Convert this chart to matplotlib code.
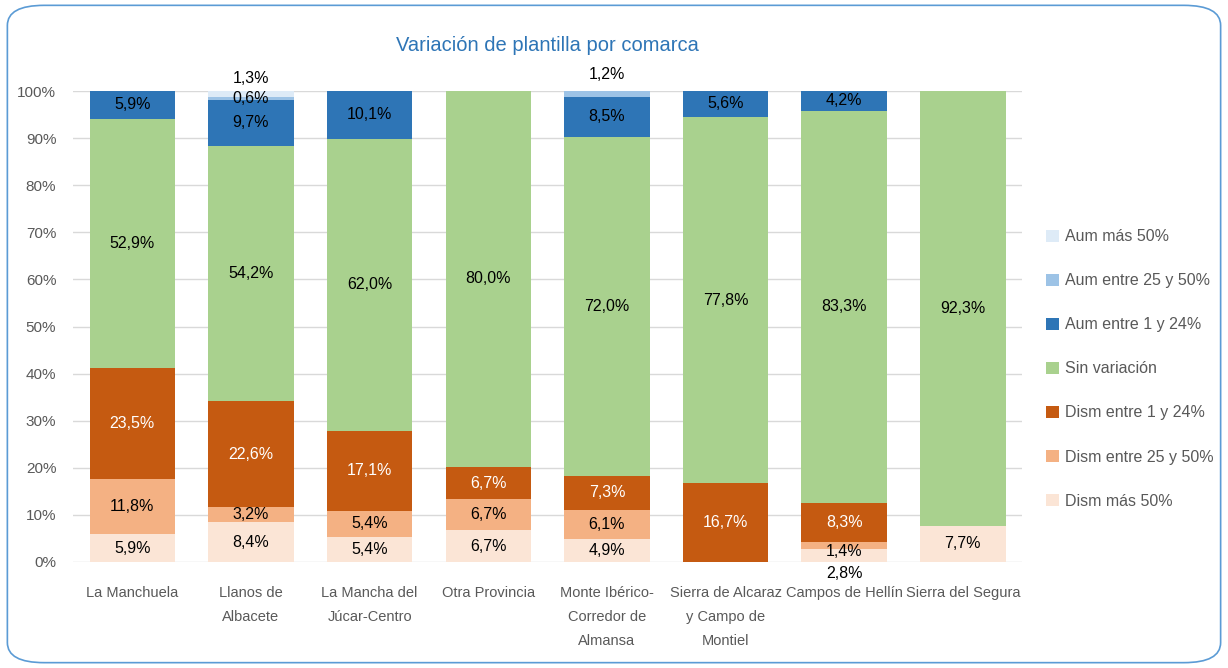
import matplotlib.pyplot as plt
import numpy as np
from matplotlib.patches import FancyBboxPatch

plt.rcParams['font.family'] = ['Liberation Sans', 'DejaVu Sans']

comarcas = ['La Manchuela', 'Llanos de\nAlbacete', 'La Mancha del\nJúcar-Centro', 'Otra Provincia',
            'Monte Ibérico-\nCorredor de\nAlmansa', 'Sierra de Alcaraz\ny Campo de\nMontiel',
            'Campos de Hellín', 'Sierra del Segura']

# series, from bottom to top of the stack
dism_mas50 = [5.9, 8.4, 5.4, 6.7, 4.9, 0.0, 2.8, 7.7]
dism_25_50 = [11.8, 3.2, 5.4, 6.7, 6.1, 0.0, 1.4, 0.0]
dism_1_24 = [23.5, 22.6, 17.1, 6.7, 7.3, 16.7, 8.3, 0.0]
sin_var = [52.9, 54.2, 62.0, 80.0, 72.0, 77.8, 83.3, 92.3]
aum_1_24 = [5.9, 9.7, 10.1, 0.0, 8.5, 5.6, 4.2, 0.0]
aum_25_50 = [0.0, 0.6, 0.0, 0.0, 1.2, 0.0, 0.0, 0.0]
aum_mas50 = [0.0, 1.3, 0.0, 0.0, 0.0, 0.0, 0.0, 0.0]

series = [dism_mas50, dism_25_50, dism_1_24, sin_var, aum_1_24, aum_25_50, aum_mas50]
names = ['Dism más 50%', 'Dism entre 25 y 50%', 'Dism entre 1 y 24%', 'Sin variación',
         'Aum entre 1 y 24%', 'Aum entre 25 y 50%', 'Aum más 50%']
colors = ['#FBE5D6', '#F4B183', '#C55A11', '#A9D18E', '#2E75B6', '#9DC3E6', '#DEEBF7']
txtcol = ['black', 'black', 'white', 'black', 'black', 'black', 'black']

# label nudges (points) where Excel moved overlapping labels
nudge = {(1, 6): 11, (4, 5): 14, (6, 1): -4, (6, 0): -13}

fig = plt.figure(figsize=(12.28, 6.68), dpi=100)
ax = fig.add_axes([0.0594, 0.1587, 0.773, 0.705])

x = np.arange(len(comarcas))
bottom = np.zeros(len(comarcas))
handles = []
for k, s in enumerate(series):
    vals = np.array(s)
    b = ax.bar(x, vals, 0.72, bottom=bottom, color=colors[k], label=names[k], zorder=2)
    handles.append(b)
    for i, v in enumerate(vals):
        if v > 0:
            dy = nudge.get((i, k), 0)
            ax.annotate(('%.1f%%' % v).replace('.', ','), (x[i], bottom[i] + v / 2),
                        xytext=(0, dy), textcoords='offset points', ha='center', va='center',
                        fontsize=11.5, color=txtcol[k], zorder=3)
    bottom += vals

ax.set_xlim(-0.5, 7.5)
ax.set_ylim(0, 100)
ax.set_yticks(np.arange(0, 101, 10))
ax.set_yticklabels(['%d%%' % t for t in range(0, 101, 10)], fontsize=11, color='#595959')
ax.set_xticks(x)
ax.set_xticklabels(comarcas, fontsize=10.5, color='#595959', linespacing=1.95)
ax.tick_params(axis='x', length=0, pad=17)
ax.tick_params(axis='y', length=0, pad=12)
ax.yaxis.grid(True, color='#D9D9D9', lw=1, zorder=0)
for sp in ax.spines.values():
    sp.set_visible(False)

ax.set_title('Variación de plantilla por comarca', fontsize=14.5, color='#2E75B6', pad=29)

ax.legend(handles[::-1], names[::-1], loc='center left', bbox_to_anchor=(1.01, 0.41),
          frameon=False, fontsize=11.5, labelcolor='#595959', handlelength=0.8, handleheight=0.8,
          labelspacing=1.82, handletextpad=0.4)

fig.patches.append(FancyBboxPatch((0.006, 0.008), 0.988, 0.984, boxstyle='round,pad=0,rounding_size=0.03',
                                  transform=fig.transFigure, fill=False, ec='#5B9BD5', lw=1.2))

fig.savefig('out.png', dpi=100)
